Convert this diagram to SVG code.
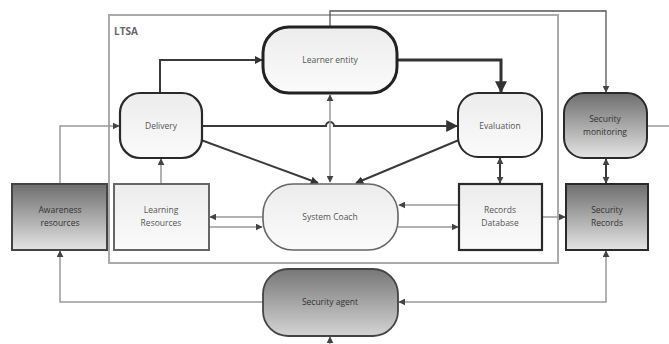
<svg xmlns="http://www.w3.org/2000/svg" width="669" height="344" viewBox="0 0 669 344">
<defs>
<linearGradient id="light" x1="0" y1="0" x2="0" y2="1"><stop offset="0" stop-color="#ececec"/><stop offset="1" stop-color="#fbfbfb"/></linearGradient>
<linearGradient id="dark" x1="0" y1="0" x2="0" y2="1"><stop offset="0" stop-color="#6e6e6e"/><stop offset="1" stop-color="#e4e4e4"/></linearGradient>
<linearGradient id="agent" x1="0" y1="0" x2="0" y2="1"><stop offset="0" stop-color="#777"/><stop offset="1" stop-color="#d4d4d4"/></linearGradient>
<marker id="ah" viewBox="0 0 10 10" refX="9" refY="5" markerWidth="8" markerHeight="8" markerUnits="userSpaceOnUse" orient="auto-start-reverse"><path d="M0,0 L10,5 L0,10 z" fill="#333"/></marker>
<marker id="ahg" viewBox="0 0 10 10" refX="9" refY="5" markerWidth="7" markerHeight="7" markerUnits="userSpaceOnUse" orient="auto-start-reverse"><path d="M0,0 L10,5 L0,10 z" fill="#444"/></marker>
<marker id="ahb" viewBox="0 0 10 10" refX="9" refY="5" markerWidth="12" markerHeight="12" markerUnits="userSpaceOnUse" orient="auto-start-reverse"><path d="M0,0 L10,5 L0,10 z" fill="#333"/></marker>
</defs>
<style>
text{font-family:"Open Sans","Liberation Sans",sans-serif;font-size:8.5px;text-anchor:middle;fill:#555}
.dk text{fill:#333}
.c{fill:none;stroke:#3a3a3a;stroke-width:2}
.g{fill:none;stroke:#999;stroke-width:1.5}
.t{fill:none;stroke:#555;stroke-width:1.3}
</style>
<rect width="669" height="344" fill="#fff"/>
<g id="ltsa">
<rect x="109" y="15" width="449" height="248" fill="none" stroke="#aaa" stroke-width="2"/>
<text x="126" y="35" style="text-anchor:middle;font-size:10px;font-weight:bold;fill:#666">LTSA</text>
</g>
<g id="connectors">
<path class="t" d="M330,27 V11 H606 V92" marker-end="url(#ahg)"/>
<path class="c" d="M160,93 V60 H262" marker-end="url(#ah)"/>
<path d="M397,60 H501 V92" fill="none" stroke="#333" stroke-width="3" marker-end="url(#ahb)"/>
<path class="c" d="M202,126 H326 A4,4 0 0 1 334,126 H457" marker-end="url(#ahb)"/>
<path class="g" d="M330,95 V182" stroke="#888" marker-start="url(#ahg)" marker-end="url(#ahg)"/>
<path class="c" d="M201,140 L318,183" marker-end="url(#ah)"/>
<path class="c" d="M459,140 L356,183" stroke-width="1.8" marker-end="url(#ah)"/>
<path class="c" d="M500,158 V183" marker-start="url(#ahg)" marker-end="url(#ahg)"/>
<path class="c" d="M606,159 V183" marker-start="url(#ahg)" marker-end="url(#ahg)"/>
<path class="g" d="M161,184 V159" marker-end="url(#ahg)"/>
<path class="g" d="M60,184 V126 H119" marker-end="url(#ahg)"/>
<path class="g" d="M263,217 H210" stroke="#888" marker-end="url(#ahg)"/>
<path class="g" d="M209,227 H262" stroke="#888" marker-end="url(#ahg)"/>
<path class="g" d="M459,205 H399" stroke="#888" marker-end="url(#ahg)"/>
<path class="g" d="M398,227 H458" stroke="#888" marker-end="url(#ahg)"/>
<path class="g" d="M542,217 H565" stroke="#aaa" marker-end="url(#ahg)"/>
<path class="g" d="M263,302 H60 V251" stroke="#aaa" marker-end="url(#ahg)"/>
<path class="g" d="M399,302 H606 V251" stroke="#aaa" marker-start="url(#ahg)" marker-end="url(#ahg)"/>
<path class="g" d="M647,126 H669" stroke="#888"/>
<path class="g" d="M330,344 V337" stroke="#444" marker-end="url(#ahg)"/>
</g>
<g id="learner-entity">
<rect x="263" y="27" width="134" height="66" rx="26" fill="url(#light)" stroke="#222" stroke-width="3"/>
<text x="330" y="63">Learner entity</text>
</g>
<g id="delivery">
<rect x="120" y="93" width="82" height="65" rx="20" fill="url(#light)" stroke="#2a2a2a" stroke-width="2.2"/>
<text x="161" y="129">Delivery</text>
</g>
<g id="evaluation">
<rect x="458" y="93" width="84" height="64" rx="20" fill="url(#light)" stroke="#2a2a2a" stroke-width="2"/>
<text x="500" y="129">Evaluation</text>
</g>
<g id="security-monitoring" class="dk">
<rect x="564" y="93" width="83" height="65" rx="20" fill="url(#dark)" stroke="#2a2a2a" stroke-width="2"/>
<text x="605" y="122">Security</text>
<text x="605" y="135">monitoring</text>
</g>
<g id="awareness-resources" class="dk">
<rect x="12" y="184" width="95" height="66" fill="url(#dark)" stroke="#444" stroke-width="2"/>
<text x="60" y="213">Awareness</text>
<text x="60" y="226">resources</text>
</g>
<g id="learning-resources">
<rect x="114" y="184" width="95" height="66" fill="url(#light)" stroke="#666" stroke-width="2"/>
<text x="161" y="213">Learning</text>
<text x="161" y="226">Resources</text>
</g>
<g id="system-coach">
<rect x="263" y="184" width="135" height="66" rx="30" fill="url(#light)" stroke="#666" stroke-width="1.6"/>
<text x="330" y="220">System Coach</text>
</g>
<g id="records-database">
<rect x="459" y="184" width="83" height="66" fill="url(#light)" stroke="#2a2a2a" stroke-width="2.2"/>
<text x="500" y="213">Records</text>
<text x="500" y="226">Database</text>
</g>
<g id="security-records" class="dk">
<rect x="566" y="184" width="82" height="66" fill="url(#dark)" stroke="#2a2a2a" stroke-width="2"/>
<text x="607" y="213">Security</text>
<text x="607" y="226">Records</text>
</g>
<g id="security-agent" class="dk">
<rect x="263" y="269" width="135" height="67" rx="25" fill="url(#agent)" stroke="#444" stroke-width="1.8"/>
<text x="330" y="305">Security agent</text>
</g>
</svg>
